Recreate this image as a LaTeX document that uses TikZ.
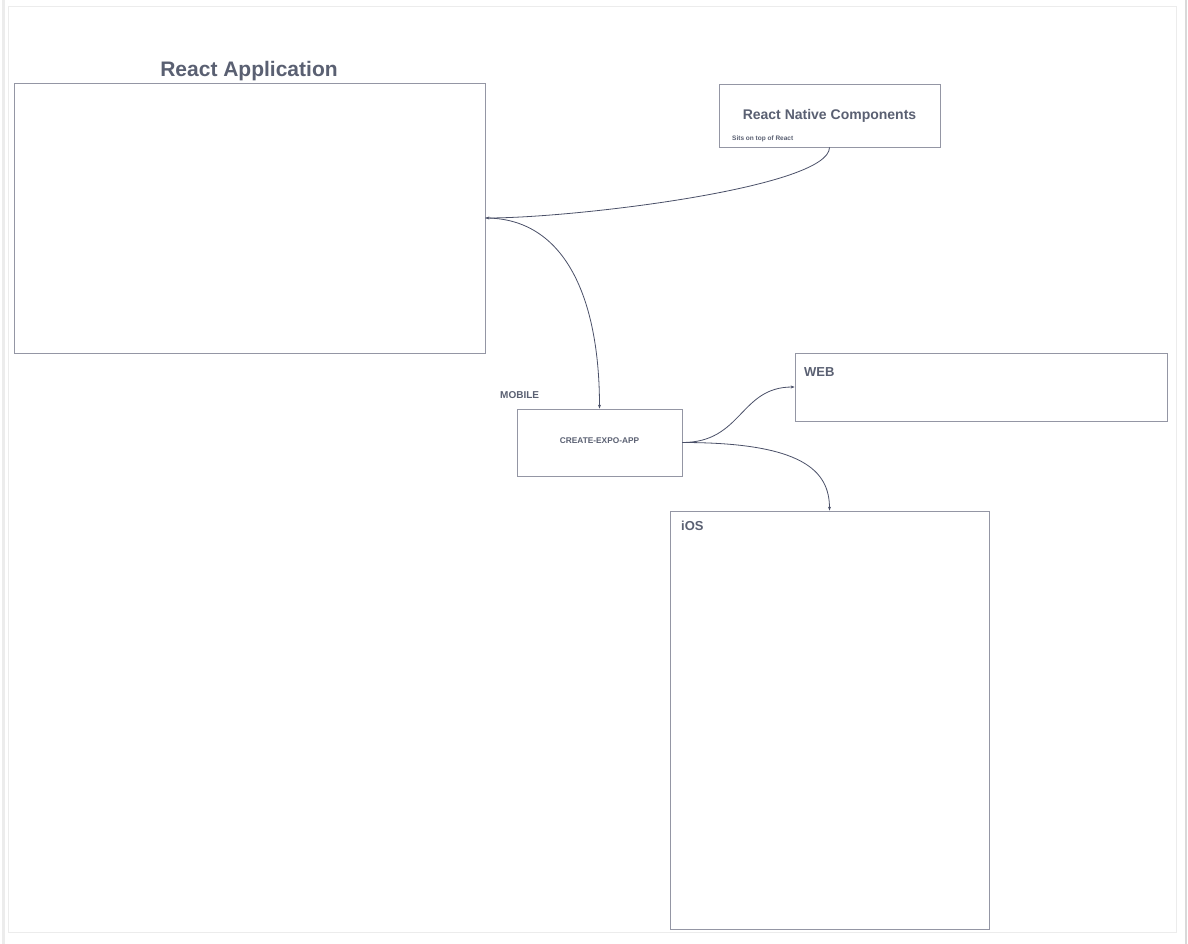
\documentclass[tikz,border=0pt]{standalone}
\usepackage{fontspec}
\setmainfont{Liberation Sans}
\usetikzlibrary{arrows.meta}
\definecolor{boxline}{HTML}{9496A4}
\definecolor{wire}{HTML}{4A5068}
\definecolor{ink}{HTML}{5A6072}
\tikzset{
  box/.style={draw=boxline, line width=0.8pt, inner sep=0pt},
  lbl/.style={text=ink, font=\bfseries, inner sep=0pt},
  wirearrow/.style={draw=wire, line width=0.8pt, -{Stealth[length=4pt,width=3pt]}}
}
\begin{document}
\begin{tikzpicture}[x=1pt, y=-1pt]
\useasboundingbox (0,0) rectangle (1188,944);
\fill[white] (0,0) rectangle (1188,944);
\draw[gray!15, line width=3pt] (3,0) -- (3,944);
\draw[gray!15, line width=1pt] (8,7) rectangle (1176,932);
\draw[gray!30, line width=2pt] (1186,0) -- (1186,944);
% boxes
\node[box, minimum width=471pt, minimum height=270pt] (app) at (249.5,218) {};
\node[lbl, font=\bfseries\fontsize{21}{23}\selectfont] (apptitle) at (249,71) {React Application};
\node[box, minimum width=221pt, minimum height=63pt] (rnc) at (829.5,115.5) {};
\node[lbl, font=\bfseries\fontsize{14}{16}\selectfont] (rnctitle) at (829.5,116) {React Native Components};
\node[lbl, font=\bfseries\fontsize{6.5}{8}\selectfont, anchor=west] (rncnote) at (732,138.5) {Sits on top of React};
\node[lbl, font=\bfseries\fontsize{10}{12}\selectfont, anchor=west] (mobile) at (500,395.5) {MOBILE};
\node[box, minimum width=165pt, minimum height=67pt] (expo) at (599.5,442.5) {};
\node[lbl, font=\bfseries\fontsize{8.3}{10}\selectfont] (expotitle) at (599.5,441) {CREATE-EXPO-APP};
\node[box, minimum width=372pt, minimum height=68pt] (web) at (981,387) {};
\node[lbl, font=\bfseries\fontsize{13}{15}\selectfont, anchor=west] (webtitle) at (804,372) {WEB};
\node[box, minimum width=319pt, minimum height=418pt] (ios) at (829.5,720) {};
\node[lbl, font=\bfseries\fontsize{13}{15}\selectfont, anchor=west] (iostitle) at (681,525.5) {iOS};
% connectors
\draw[wirearrow] (rnc.south) .. controls +(0,40) and +(90,0) .. (app.east);
\draw[wirearrow] (app.east) .. controls +(80,0) and +(0,-110) .. (expo.north);
\draw[wirearrow] (expo.east) .. controls +(60,0) and +(-55,0) .. (web.west);
\draw[wirearrow] (expo.east) .. controls +(120,0) and +(0,-40) .. (ios.north);
\end{tikzpicture}
\end{document}
